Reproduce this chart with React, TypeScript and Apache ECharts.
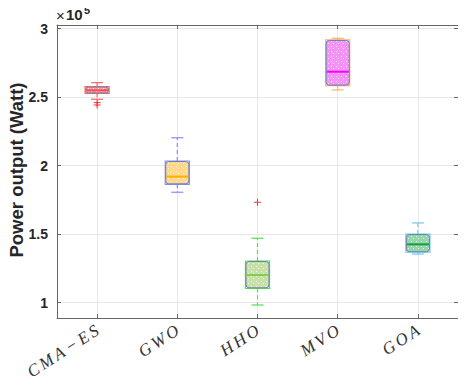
import React, { useEffect, useRef } from "react";
import * as echarts from "echarts";

const categories = ["C\u2006M\u2006A\u2009−\u2009E\u2006S", "G\u2006W\u2006O", "H\u2006H\u2006O", "M\u2006V\u2006O", "G\u2006O\u2006A"];
const lowWhisker = [248500, 180600, 98300, 255300, 135500];
const q1Values = [252800, 186400, 110500, 258400, 136800];
const medianValues = [255000, 192000, 120200, 268600, 142600];
const q3Values = [257700, 203400, 130400, 291800, 150100];
const highWhisker = [260600, 220400, 147000, 293000, 158200];
const outlierCat = [0, 0, 2];
const outlierValues = [246000, 244300, 173300];
const yTicks = [100000, 150000, 200000, 250000, 300000];

const fillColors = ["#f5a0a6", "#ffd88c", "#c6e0a6", "#f592f5", "#94d6aa"];
const whiskerColors = ["#ff6464", "#8a8aff", "#50e050", "#ffb070", "#72c6f2"];
const medianColors = ["#ff4d4d", "#ffb000", "#80cc50", "#ff00ff", "#10a040"];

function makePattern(color: string) {
  const c = document.createElement("canvas");
  c.width = 5;
  c.height = 5;
  const g = c.getContext("2d");
  if (g) {
    g.fillStyle = color;
    g.fillRect(0, 0, 5, 5);
    g.fillStyle = "rgba(255,255,255,0.75)";
    g.fillRect(1, 1, 1, 1);
    g.fillRect(3, 3, 1, 1);
  }
  return { image: c, repeat: "repeat" };
}

export default function App() {
  const ref = useRef<HTMLDivElement>(null);
  useEffect(() => {
    if (!ref.current) return;
    const chart = echarts.init(ref.current, undefined, { renderer: "svg" });
    const xIdx = categories.map((_, i) => i);
    const patterns = fillColors.map((c) => makePattern(c));
    const boxData = categories.map((_, i) => [
      i,
      lowWhisker[i],
      q1Values[i],
      medianValues[i],
      q3Values[i],
      highWhisker[i],
    ]);
    const outData = outlierCat.map((c, i) => [c, outlierValues[i]]);
    const axisColor = "#666";
    const option: any = {
      animation: false,
      grid: { left: 57, right: 8, top: 25, bottom: 72, containLabel: false, outerBoundsMode: "none" },
      xAxis: [
        {
          type: "value",
          min: -0.5,
          max: 4.5,
          axisLine: { show: true, onZero: false, lineStyle: { color: axisColor, width: 1 } },
          axisTick: { show: true, inside: true, length: 4, customValues: xIdx, lineStyle: { color: axisColor } },
          axisLabel: {
            customValues: xIdx,
            formatter: (v: number) => categories[Math.round(v)] ?? "",
            rotate: 33,
            margin: 11,
            fontFamily: "Liberation Serif",
            fontStyle: "italic",
            fontSize: 17,
            color: "#333",
          },
          splitLine: { show: true, lineStyle: { color: "#e8e8e8", width: 1 } },
        },
        {
          type: "value",
          position: "top",
          min: -0.5,
          max: 4.5,
          axisLine: { show: true, onZero: false, lineStyle: { color: axisColor, width: 1 } },
          axisTick: { show: true, inside: true, length: 4, customValues: xIdx, lineStyle: { color: axisColor } },
          axisLabel: { show: false, customValues: xIdx },
          splitLine: { show: false },
        },
      ],
      yAxis: [
        {
          type: "value",
          min: 88800,
          max: 302700,
          axisLine: { show: true, onZero: false, lineStyle: { color: axisColor, width: 1 } },
          axisTick: { show: true, inside: true, length: 4, customValues: yTicks, lineStyle: { color: axisColor } },
          axisLabel: {
            customValues: yTicks,
            formatter: (v: number) => String(v / 100000),
            fontFamily: "Liberation Sans",
            fontWeight: "bold",
            fontSize: 14,
            color: "#262626",
            margin: 9,
          },
          splitLine: { show: true, lineStyle: { color: "#e8e8e8", width: 1 } },
        },
        {
          type: "value",
          position: "right",
          min: 88800,
          max: 302700,
          axisLine: { show: true, onZero: false, lineStyle: { color: axisColor, width: 1 } },
          axisTick: { show: true, inside: true, length: 4, customValues: yTicks, lineStyle: { color: axisColor } },
          axisLabel: { show: false, customValues: yTicks },
          splitLine: { show: false },
        },
      ],
      graphic: [
        {
          type: "text",
          x: 16,
          y: 170,
          rotation: Math.PI / 2,
          style: {
            text: "Power output (Watt)",
            fontFamily: "Liberation Sans",
            fontWeight: "bold",
            fontSize: 18.5,
            fill: "#262626",
            align: "center",
            verticalAlign: "middle",
          },
        },
        {
          type: "text",
          left: 56,
          top: 8,
          style: { text: "×", fontFamily: "Liberation Sans", fontSize: 15, fill: "#262626" },
        },
        {
          type: "text",
          left: 66,
          top: 7,
          style: { text: "10", fontFamily: "Liberation Sans", fontWeight: "bold", fontSize: 15, fill: "#262626" },
        },
        {
          type: "text",
          left: 84,
          top: 4,
          style: { text: "5", fontFamily: "Liberation Sans", fontWeight: "bold", fontSize: 11, fill: "#262626" },
        },
      ],
      series: [
        {
          type: "custom",
          xAxisIndex: 0,
          yAxisIndex: 0,
          data: boxData,
          renderItem: (params: any, api: any) => {
            const i = params.dataIndex;
            const x = api.value(0);
            const pLow = api.coord([x, api.value(1)]);
            const pQ1 = api.coord([x, api.value(2)]);
            const pMed = api.coord([x, api.value(3)]);
            const pQ3 = api.coord([x, api.value(4)]);
            const pHigh = api.coord([x, api.value(5)]);
            const w = api.size([1, 0])[0] * 0.3;
            const cx = pMed[0];
            const wc = whiskerColors[i];
            const capHalf = w / 4;
            return {
              type: "group",
              children: [
                {
                  type: "line",
                  shape: { x1: cx, y1: pQ3[1], x2: cx, y2: pHigh[1] },
                  style: { stroke: wc, lineWidth: 1.2, lineDash: [4, 3] },
                },
                {
                  type: "line",
                  shape: { x1: cx, y1: pQ1[1], x2: cx, y2: pLow[1] },
                  style: { stroke: wc, lineWidth: 1.2, lineDash: [4, 3] },
                },
                {
                  type: "line",
                  shape: { x1: cx - capHalf, y1: pHigh[1], x2: cx + capHalf, y2: pHigh[1] },
                  style: { stroke: wc, lineWidth: 1.2 },
                },
                {
                  type: "line",
                  shape: { x1: cx - capHalf, y1: pLow[1], x2: cx + capHalf, y2: pLow[1] },
                  style: { stroke: wc, lineWidth: 1.2 },
                },
                {
                  type: "rect",
                  shape: { x: cx - w / 2, y: pQ3[1], width: w, height: pQ1[1] - pQ3[1] },
                  style: { fill: "none", stroke: wc, lineWidth: 1.2 },
                },
                {
                  type: "rect",
                  shape: { x: cx - w / 2 + 0.5, y: pQ3[1] + 0.5, width: w - 1, height: pQ1[1] - pQ3[1] - 1, r: 3 },
                  style: { fill: patterns[i], stroke: "#6b7fae", lineWidth: 1 },
                },
                {
                  type: "line",
                  shape: { x1: cx - w / 2 + 1, y1: pMed[1], x2: cx + w / 2 - 1, y2: pMed[1] },
                  style: { stroke: medianColors[i], lineWidth: 2 },
                },
              ],
            };
          },
          z: 5,
        },
        {
          type: "custom",
          xAxisIndex: 0,
          yAxisIndex: 0,
          data: outData,
          renderItem: (params: any, api: any) => {
            const p = api.coord([api.value(0), api.value(1)]);
            const s = 3.5;
            return {
              type: "group",
              children: [
                { type: "line", shape: { x1: p[0] - s, y1: p[1], x2: p[0] + s, y2: p[1] }, style: { stroke: "#ff3030", lineWidth: 1 } },
                { type: "line", shape: { x1: p[0], y1: p[1] - s, x2: p[0], y2: p[1] + s }, style: { stroke: "#ff3030", lineWidth: 1 } },
              ],
            };
          },
          z: 6,
        },
      ],
    };
    chart.setOption(option);
    return () => chart.dispose();
  }, []);
  return <div ref={ref} style={{ width: 466, height: 390, margin: -8 }} />;
}
